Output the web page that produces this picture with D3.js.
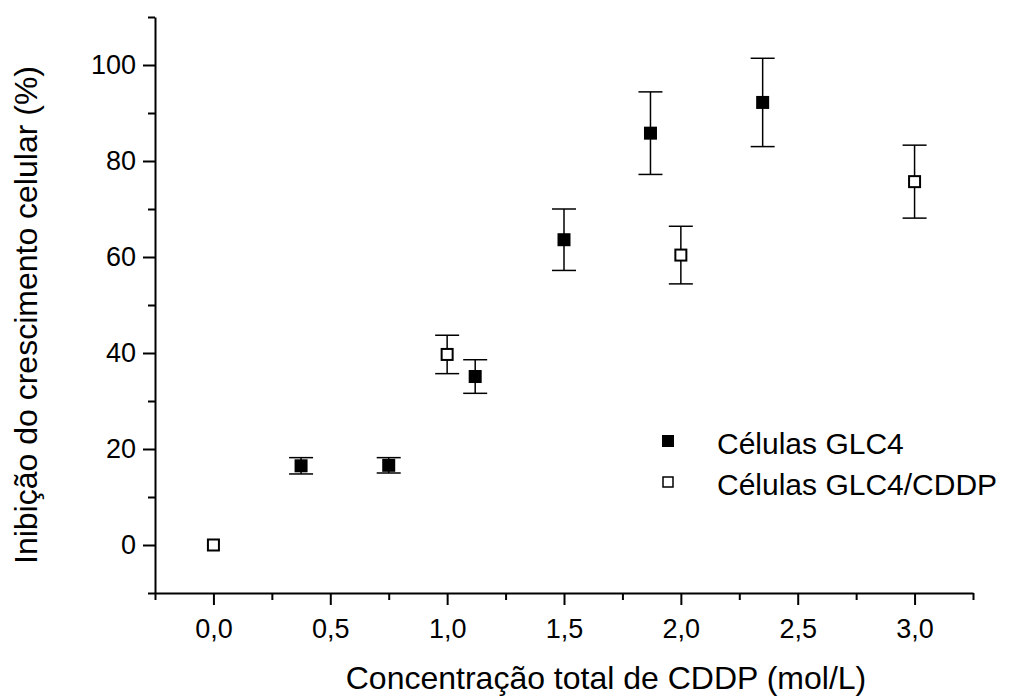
<!DOCTYPE html>
<html>
<head>
<meta charset="utf-8">
<script src="https://cdn.jsdelivr.net/npm/d3@7"></script>
<style>
  body { margin: 0; background: #fff; }
  text { font-family: "Liberation Sans", Arial, sans-serif; fill: #000; }
</style>
</head>
<body>
<svg></svg>
<script>
// values
var glc4X = [0.375, 0.75, 1.12, 1.5, 1.87, 2.35];
var glc4Y = [16.5, 16.6, 35.1, 63.6, 85.8, 92.2];
var glc4Err = [1.7, 1.6, 3.5, 6.4, 8.6, 9.2];

var cddpX = [0, 1.0, 2.0, 3.0];
var cddpY = [0, 39.7, 60.4, 75.7];
var cddpErr = [0, 4.0, 6.0, 7.6];

var xMajor = [0, 0.5, 1.0, 1.5, 2.0, 2.5, 3.0];
var xMinor = [-0.25, 0.25, 0.75, 1.25, 1.75, 2.25, 2.75, 3.25];
var yMajor = [0, 20, 40, 60, 80, 100];
var yMinor = [-10, 10, 30, 50, 70, 90, 110];

var seriesNames = ['Células GLC4', 'Células GLC4/CDDP'];

var W = 1017, H = 698;

var svg = d3.select("svg")
    .attr("width", W)
    .attr("height", H)

var x = d3.scaleLinear().domain([-0.25, 3.25]).range([155, 973]);
var y = d3.scaleLinear().domain([-10, 110]).range([593, 17]);

var fmt = function(d) { return d3.format(".1f")(d).replace('.', ','); };

// minor ticks first
svg.append('g')
    .attr('transform', 'translate(0,593)')
    .call(d3.axisBottom(x).tickValues(xMinor).tickSize(7).tickFormat(''))
    .call(g => g.select('.domain').remove());
svg.append('g')
    .attr('transform', 'translate(155,0)')
    .call(d3.axisLeft(y).tickValues(yMinor).tickSize(7).tickFormat(''))
    .call(g => g.select('.domain').remove());

var xAxis = svg.append('g')
    .attr('transform', 'translate(0,593)')
    .call(d3.axisBottom(x).tickValues(xMajor).tickSizeInner(12).tickSizeOuter(0).tickPadding(14).tickFormat(fmt));
var yAxis = svg.append('g')
    .attr('transform', 'translate(155,0)')
    .call(d3.axisLeft(y).tickValues(yMajor).tickSizeInner(12).tickSizeOuter(0).tickPadding(7));

svg.selectAll('.domain, .tick line')
    .attr('stroke', '#000')
    .attr('stroke-width', 2);
svg.selectAll('.tick text')
    .style('font-family', '"Liberation Sans", Arial, sans-serif')
    .style('font-size', '27px')
    .attr('fill', '#000');

// axis titles
svg.append('text')
    .attr('x', 606)
    .attr('y', 689)
    .attr('text-anchor', 'middle')
    .style('font-size', '32px')
    .text('Concentração total de CDDP (mol/L)');

svg.append('text')
    .attr('transform', 'translate(37,315) rotate(-90)')
    .attr('text-anchor', 'middle')
    .style('font-size', '32px')
    .text('Inibição do crescimento celular (%)');

// error bars + markers
function drawSeries(xs, ys, errs, filled) {
    var pts = xs.map(function(v, i) { return {x: v, y: ys[i], e: errs[i]}; });
    var g = svg.append('g');
    var eb = g.selectAll('g.eb').data(pts.filter(d => d.e > 0)).enter().append('g');
    eb.append('line')
        .attr('x1', d => x(d.x)).attr('x2', d => x(d.x))
        .attr('y1', d => y(d.y - d.e)).attr('y2', d => y(d.y + d.e))
        .attr('stroke', '#000').attr('stroke-width', 1.5);
    [-1, 1].forEach(function(s) {
        eb.append('line')
            .attr('x1', d => x(d.x) - 12).attr('x2', d => x(d.x) + 12)
            .attr('y1', d => y(d.y + s * d.e)).attr('y2', d => y(d.y + s * d.e))
            .attr('stroke', '#000').attr('stroke-width', 1.5);
    });
    var sz = filled ? 13 : 11;
    g.selectAll('rect').data(pts).enter().append('rect')
        .attr('x', d => x(d.x) - sz / 2)
        .attr('y', d => y(d.y) - sz / 2)
        .attr('width', sz).attr('height', sz)
        .attr('fill', filled ? '#000' : '#fff')
        .attr('stroke', '#000')
        .attr('stroke-width', filled ? 0 : 2);
}
drawSeries(glc4X, glc4Y, glc4Err, true);
drawSeries(cddpX, cddpY, cddpErr, false);

// legend
var legend = svg.append('g');
seriesNames.forEach(function(name, i) {
    var cy = 441 + i * 41;
    legend.append('rect')
        .attr('x', 668 - (i ? 5 : 6)).attr('y', cy - (i ? 5 : 6))
        .attr('width', i ? 10 : 12).attr('height', i ? 10 : 12)
        .attr('fill', i ? '#fff' : '#000')
        .attr('stroke', '#000').attr('stroke-width', i ? 1.5 : 0);
    legend.append('text')
        .attr('x', 717).attr('y', cy + 13)
        .style('font-size', '30px')
        .text(name);
});
</script>
</body>
</html>
